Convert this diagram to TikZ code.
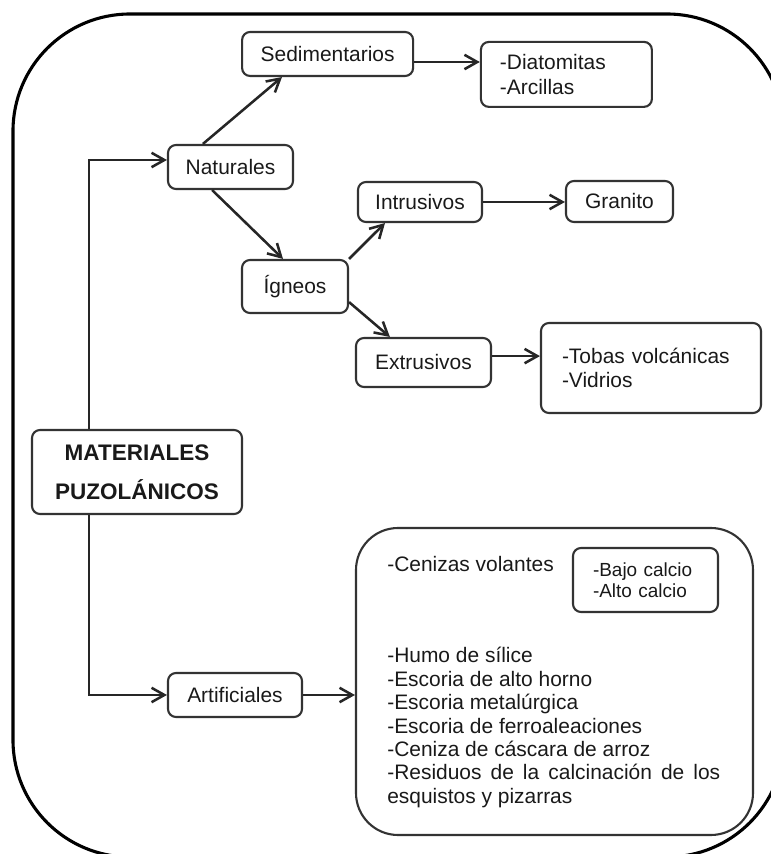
\documentclass[tikz,border=0pt]{standalone}
\usepackage{fontspec}
\setmainfont{Liberation Sans}
\usetikzlibrary{arrows.meta}
\newcommand{\fuente}{\fontsize{14.9}{17.5}\selectfont}
\newcommand{\fuentechica}{\fontsize{13.5}{14.9}\selectfont}
\hyphenpenalty=10000
\tikzset{
  caja/.style args={#1 by #2}{draw=black!80, line width=1.5pt, rounded corners=0.2cm,
    inner sep=0pt, minimum width=#1cm, minimum height=#2cm, font=\fuente, text=black!90},
  lista/.style={caja=#1, align=left},
  flecha/.style={-{Straight Barb[length=0.32cm,width=0.36cm]}, line width=1.8pt, draw=black!85}
}

\begin{document}
\begin{tikzpicture}
\useasboundingbox (0,0) rectangle (19.275,21.35);
\clip (0,0) rectangle (19.275,21.35);
\draw[line width=2.2pt, rounded corners=2.925cm] (0.325,-0.075) rectangle (19.6,21.0); % marco exterior
\coordinate (tronco) at (2.225,0);
% naturales
\node[caja=4.275 by 1.1] (sed) at (8.19,20.0) {Sedimentarios};
\node[lista=4.275 by 1.625, text width=3.325cm, inner xsep=0.475cm, font=\fontsize{14.9}{17.8}\selectfont] (dia) at (14.16,19.49) {-Diatomitas\\-Arcillas};
\node[caja=3.125 by 1.1] (nat) at (5.7625,17.175) {Naturales};
\node[caja=3.1 by 1.0] (int) at (10.5,16.3) {Intrusivos};
\node[caja=2.675 by 1.025] (gra) at (15.4875,16.3125) {Granito};
\node[caja=2.65 by 1.325] (ign) at (7.375,14.1875) {Ígneos};
\node[caja=3.375 by 1.225] (ext) at (10.5875,12.2875) {Extrusivos};
\node[lista=5.5 by 2.25, text width=4.45cm, inner xsep=0.525cm, font=\fontsize{14.9}{17.1}\selectfont] (tob) at (16.275,12.15) {-Tobas volcánicas\\-Vidrios};
% centro
\node[caja=5.25 by 2.1, align=center, font=\fontsize{16}{27.7}\selectfont\bfseries] (mat) at (3.425,9.55) {MATERIALES\\PUZOLÁNICOS};
% artificiales
\node[caja=3.35 by 1.1] (art) at (5.875,3.975) {Artificiales};
\node[caja=9.925 by 7.675, rounded corners=1.05cm] (res) at (13.8625,4.3125) {};
\node[anchor=base west, inner sep=0pt, font=\fuente, text=black!90] (cen) at (9.675,7.05) {-Cenizas volantes};
\node[lista=3.625 by 1.6, text width=2.625cm, inner xsep=0.5cm, font=\fuentechica] (baj) at (16.1375,6.85) {-Bajo calcio\\-Alto calcio};
\node[anchor=base west, inner sep=0pt, text width=8.325cm, align=justify, text=black!90,
  font=\fontsize{14.9}{16.6}\selectfont] (otr) at (9.675,4.775)
  {-Humo de sílice\\-Escoria de alto horno\\-Escoria metalúrgica\\-Escoria de ferroaleaciones\\-Ceniza de cáscara de arroz\\-Residuos de la calcinación de los esquistos y pizarras};
% conectores
\draw[flecha] (mat.north -| tronco) |- ([yshift=0.175cm]nat.west);
\draw[flecha] (mat.south -| tronco) |- (art.west);
\draw[flecha] ([xshift=-0.69cm]nat.north) -- ([xshift=-1.14cm]sed.south);
\draw[flecha] ([xshift=-0.46cm]nat.south) -- ([xshift=-0.3cm]ign.north);
\draw[flecha] ([yshift=-0.2cm]sed.east) -- ([yshift=-0.2cm]sed.east -| dia.west);
\draw[flecha] (ign.north east) -- ([xshift=-0.875cm]int.south);
\draw[flecha] ([yshift=-0.39cm]ign.east) -- ([xshift=-0.84cm]ext.north);
\draw[flecha] (int.east) -- (int.east -| gra.west);
\draw[flecha] ([yshift=0.16cm]ext.east) -- ([yshift=0.16cm]ext.east -| tob.west);
\draw[flecha] (art.east) -- (art.east -| res.west);
\end{tikzpicture}
\end{document}
